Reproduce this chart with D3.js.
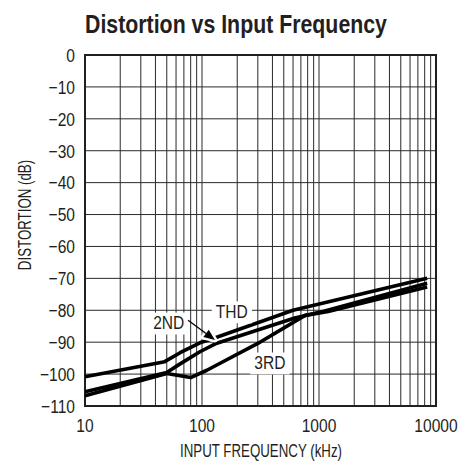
<!DOCTYPE html>
<html>
<head>
<meta charset="utf-8">
<script src="https://cdn.jsdelivr.net/npm/d3@7/dist/d3.min.js"></script>
<style>
  html, body { margin: 0; padding: 0; background: #fff; }
  svg { display: block; }
  text { font-family: "Liberation Sans", Arial, sans-serif; fill: #231f20; }
</style>
</head>
<body>
<svg id="chart" width="472" height="465"></svg>
<script>
// ---- data ----
const xTicks = [10, 100, 1000, 10000];
const xTickLabels = ["10", "100", "1000", "10000"];
const yTicks = [0, -10, -20, -30, -40, -50, -60, -70, -80, -90, -100, -110];
const yTickLabels = ["0", "\u221210", "\u221220", "\u221230", "\u221240", "\u221250", "\u221260", "\u221270", "\u221280", "\u221290", "\u2212100", "\u2212110"];

const freqTHD = [10, 48, 65, 96, 130, 600, 8400];
const thd     = [-100.8, -96.1, -93.3, -90.2, -88.6, -80.0, -70.0];

const freq2ND = [10, 50, 65, 96, 130, 620, 1100, 8400];
const nd2     = [-105.5, -99.5, -96.8, -93.0, -90.5, -82.4, -80.3, -71.5];

const freq3RD = [10, 50, 80, 110, 300, 760, 1200, 8400];
const rd3     = [-106.8, -99.8, -101.1, -98.8, -90.4, -81.6, -80.4, -72.7];

const seriesNames = ["THD", "2ND", "3RD"];
const labelFreq = [180, 52, 380];
const labelDb   = [-82.4, -85.9, -98.4];

const arrowFrom = [76, -83.1];
const arrowTo   = [129, -89.3];

// ---- layout ----
const svg = d3.select("#chart");
const L = 85, R = 436, T = 55, B = 406;
const x = d3.scaleLog().domain([10, 10000]).range([L, R]);
const y = d3.scaleLinear().domain([-110, 0]).range([B, T]);

// narrow text helper (horizontal condensing)
function ntext(parent, px, py, str, size, anchor, sx, weight, rot) {
  const g = parent.append("g")
    .attr("transform", `translate(${px},${py})` + (rot ? ` rotate(${rot})` : "") + ` scale(${sx},1)`);
  const t = g.append("text")
    .attr("x", 0).attr("y", 0)
    .attr("text-anchor", anchor)
    .attr("font-size", size)
    .attr("font-weight", weight || "normal")
    .text(str);
  return { g, t };
}

// title
ntext(svg, 236, 33, "Distortion vs Input Frequency", 26, "middle", 0.82, "bold");

// grid
const minor = [];
for (let d = 10; d < 10000; d *= 10) {
  for (let k = 1; k <= 9; k++) minor.push(d * k);
}
const grid = svg.append("g").attr("stroke", "#2a2a2a").attr("stroke-width", 1);
grid.selectAll("line.v").data(minor.filter(v => v > 10)).join("line")
  .attr("x1", d => x(d)).attr("x2", d => x(d))
  .attr("y1", T).attr("y2", B);
grid.selectAll("line.h").data(yTicks.filter(v => v > -110 && v < 0)).join("line")
  .attr("x1", L).attr("x2", R)
  .attr("y1", d => y(d)).attr("y2", d => y(d));

// frame
svg.append("rect")
  .attr("x", L).attr("y", T).attr("width", R - L).attr("height", B - T)
  .attr("fill", "none").attr("stroke", "#231f20").attr("stroke-width", 2);

// tick labels
const yl = svg.append("g");
yTicks.forEach((d, i) => {
  ntext(yl, L - 10, y(d) + 6.8, yTickLabels[i], 19, "end", 0.82);
});
const xl = svg.append("g");
xTicks.forEach((d, i) => {
  ntext(xl, x(d), 432, xTickLabels[i], 19, "middle", 0.82);
});

// axis titles
ntext(svg, 31, 215, "DISTORTION (dB)", 17.5, "middle", 0.76, "normal", -90);
ntext(svg, 261, 457, "INPUT FREQUENCY (kHz)", 17.5, "middle", 0.76);

// curves
const line = d3.line().x(d => x(d[0])).y(d => y(d[1])).curve(d3.curveLinear);
const series = [
  d3.zip(freqTHD, thd),
  d3.zip(freq2ND, nd2),
  d3.zip(freq3RD, rd3)
];
svg.append("g").selectAll("path").data(series).join("path")
  .attr("d", line)
  .attr("fill", "none")
  .attr("stroke", "#000")
  .attr("stroke-width", 3.6)
  .attr("stroke-linejoin", "round");

// labels with white backgrounds
const lab = svg.append("g");
seriesNames.forEach((name, i) => {
  const { g, t } = ntext(lab, x(labelFreq[i]), y(labelDb[i]), name, 19, "middle", 0.82);
  const bb = t.node().getBBox();
  g.insert("rect", "text")
    .attr("x", bb.x - 5).attr("y", bb.y + 1)
    .attr("width", bb.width + 10).attr("height", bb.height)
    .attr("fill", "#fff");
});

// arrow
const x1 = x(arrowFrom[0]), y1 = y(arrowFrom[1]);
const x2 = x(arrowTo[0]), y2 = y(arrowTo[1]);
const ang = Math.atan2(y2 - y1, x2 - x1);
const hl = 11, hw = 4.5;
const bx = x2 - hl * Math.cos(ang), by = y2 - hl * Math.sin(ang);
const px = -Math.sin(ang), py = Math.cos(ang);
const head = [[x2, y2], [bx + hw * px, by + hw * py], [bx - hw * px, by - hw * py]];
svg.append("polygon")
  .attr("points", head.map(p => p.join(",")).join(" "))
  .attr("fill", "#fff").attr("stroke", "#fff").attr("stroke-width", 5)
  .attr("stroke-linejoin", "round");
svg.append("line")
  .attr("x1", x1).attr("y1", y1).attr("x2", bx).attr("y2", by)
  .attr("stroke", "#000").attr("stroke-width", 1.3);
svg.append("polygon")
  .attr("points", head.map(p => p.join(",")).join(" "))
  .attr("fill", "#000");
</script>
</body>
</html>
